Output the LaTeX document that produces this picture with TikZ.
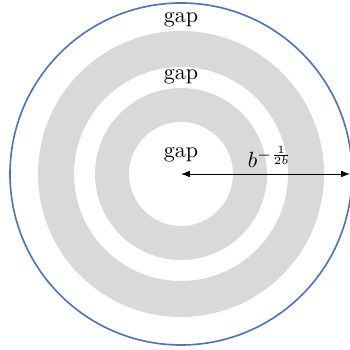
\documentclass[tikz,border=0pt]{standalone}
\usepackage{amsmath,amssymb}
\usetikzlibrary{arrows.meta,positioning,calc}
\definecolor{rimblue}{RGB}{80,117,178}

\begin{document}
\begin{tikzpicture}[x=0.4535pt,y=0.4535pt]
  \useasboundingbox (0,0) rectangle (349,350);
  \coordinate (o) at (181,176);
  \coordinate (rim) at (350,176);
  \fill[gray!30,even odd rule] (o) circle (143) circle (107);
  \fill[gray!30,even odd rule] (o) circle (86) circle (52);
  \draw[rimblue,line width=0.75pt] (o) circle (171);
  \draw[{Latex[length=4pt]}-{Latex[length=4pt]}] (o) -- (rim);
  \node (gapout) at (181,330.5) {gap};
  \node (gapmid) at (181,273.5) {gap};
  \node (gapin) at (181,195.5) {gap};
  \node (radlabel) at (270,193) {$b^{-\frac{1}{2b}}$};
\end{tikzpicture}
\end{document}
